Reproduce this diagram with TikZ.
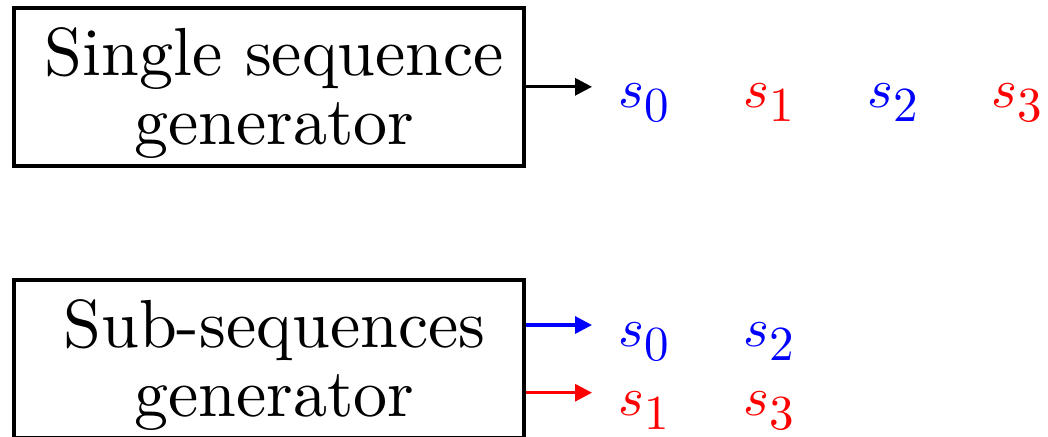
\documentclass[tikz,border=0pt]{standalone}
\usepackage{fontspec}
\setmainfont{lmroman10-regular.otf}
\usetikzlibrary{arrows.meta}
% math in the 10pt design at every size, with large subscripts
\DeclareFontShape{OML}{cmm}{m}{it}{<->cmmi10}{}
\DeclareFontShape{OT1}{cmr}{m}{n}{<->cmr10}{}
\DeclareMathSizes{27.5}{27.5}{24.5}{20}
% small left indent so the box label sits a little right of centre
\newcommand{\lpad}{\hspace*{6pt}}
\begin{document}
\begin{tikzpicture}[x=0.5pt,y=-0.5pt,
  genbox/.style={draw, line width=2pt, rectangle, inner sep=0pt,
    minimum width=255pt, minimum height=78.8pt, align=center,
    text height=63.8pt, text depth=6.6pt,
    font=\fontsize{34}{34.5}\selectfont},
  arr/.style={line width=1.6pt, -{Triangle[length=8.5pt,width=8.5pt]}},
  sym/.style={anchor=base west, inner sep=0pt, font=\fontsize{27.5}{30}\selectfont},
  even/.style={sym, text=blue},
  odd/.style={sym, text=red}]
  \useasboundingbox (0,0) rectangle (1048,436);
  \clip (0,0) rectangle (1048,436);

  % single generator with its interleaved output stream
  \node[genbox] (single) at (268.5,86.8) {\lpad Single sequence\\\lpad generator};
  \coordinate (tipA) at (592,88.6);
  \draw[arr] (single.east) -- (single.east -| tipA);
  \node[even] (a0) at (618,107.5) {$s_0$};
  \node[odd]  (a1) at (743,107.5) {$s_1$};
  \node[even] (a2) at (867,107.5) {$s_2$};
  \node[odd]  (a3) at (991,107.5) {$s_3$};

  % sub-sequence generator with two separate output streams
  \node[genbox] (sub) at (268.5,358.8) {\lpad Sub-sequences\\\lpad generator};
  \coordinate (tipB) at (592,325);
  \coordinate (tipC) at (592,392.7);
  \draw[arr, blue] (sub.east |- tipB) -- (tipB);
  \draw[arr, red]  (sub.east |- tipC) -- (tipC);
  \node[even] (b0) at (618,346) {$s_0$};
  \node[even] (b2) at (743,346) {$s_2$};
  \node[odd]  (b1) at (618,415) {$s_1$};
  \node[odd]  (b3) at (743,415) {$s_3$};
\end{tikzpicture}
\end{document}
